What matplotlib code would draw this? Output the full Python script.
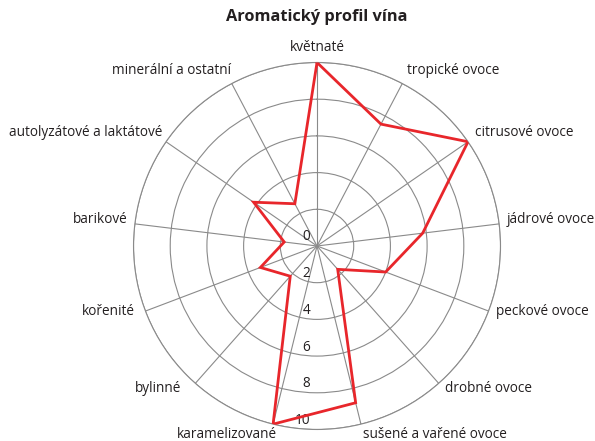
import numpy as np
import matplotlib
matplotlib.use("Agg")
import matplotlib.pyplot as plt

categories = ["květnaté", "tropické ovoce", "citrusové ovoce", "jádrové ovoce",
              "peckové ovoce", "drobné ovoce", "sušené a vařené ovoce",
              "karamelizované", "bylinné", "kořenité", "barikové",
              "autolyzátové a laktátové", "minerální a ostatní"]
values = [10, 7.5, 10, 5.8, 4.0, 1.7, 8.8, 10, 2.2, 3.3, 1.8, 4.2, 2.6]
r_ticks = [0, 2, 4, 6, 8, 10]
title = "Aromatický profil vína"

plt.rcParams['font.family'] = ['Open Sans', 'DejaVu Sans']
text_color = "#231f20"
grid_color = "#8a8a8a"
line_color = "#e8262b"

fig = plt.figure(figsize=(5.95, 4.41), dpi=100)
ax = fig.add_axes([0.2244, 0.0261, 0.6168, 0.8322], projection='polar')
ax.set_theta_zero_location('N')
ax.set_theta_direction(-1)

n = len(categories)
angles = np.arange(n) * 2 * np.pi / n

ax.set_ylim(0, r_ticks[-1])
ax.set_yticks(r_ticks[1:])
ax.set_yticklabels([])
ax.set_xticks(angles)
ax.set_xticklabels([])
ax.grid(True, color=grid_color, linewidth=0.8)
ax.spines['polar'].set_color(grid_color)
ax.spines['polar'].set_linewidth(0.8)
ax.tick_params(length=0)

vals = values + values[:1]
angs = list(angles) + [angles[0]]
ax.plot(angs, vals, color=line_color, linewidth=2.0, solid_joinstyle='miter', zorder=5)

# radial tick labels
for v in r_ticks:
    ax.annotate(str(v), xy=(np.pi, v), xytext=(-7, 9), textcoords='offset pixels',
                ha='right', va='center', fontsize=9.8, color=text_color,
                annotation_clip=False)

# category labels
fs = 9.8
for a, lab in zip(angles, categories):
    s, c = np.sin(a), np.cos(a)
    if c > 0.99:
        ha, dx, dy = 'center', 0, 15
    elif c < -0.9:
        ha = 'left' if s > 0 else 'right'
        dx = 2 if s > 0 else 4
        dy = -10
    elif s > 0:
        ha = 'left'
        dx = 2 + 6 * abs(s)
        dy = 3.5 + 11 * c
    else:
        ha = 'right'
        dx = -(8 - 8 * c)
        dy = 3.5 + 11 * c
    ax.annotate(lab, xy=(a, r_ticks[-1]), xytext=(dx, dy), textcoords='offset pixels',
                ha=ha, va='center', fontsize=fs, color=text_color,
                annotation_clip=False)

fig.text(317 / 595, 1 - 17 / 441, title, ha='center', va='center',
         fontsize=11.8, fontweight='bold', color=text_color)

fig.savefig("out.png", dpi=100)
